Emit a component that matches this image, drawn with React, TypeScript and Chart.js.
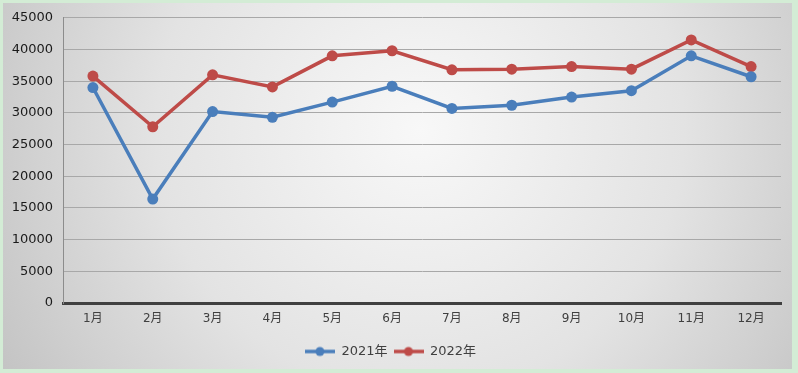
import React, { useEffect, useRef } from "react";
import { Chart, registerables } from "chart.js";

Chart.register(...registerables);

const months = ["1月", "2月", "3月", "4月", "5月", "6月", "7月", "8月", "9月", "10月", "11月", "12月"];
const series2021 = [34000, 16400, 30200, 29300, 31700, 34200, 30700, 31200, 32500, 33500, 39000, 35700];
const series2022 = [35800, 27800, 36000, 34100, 39000, 39800, 36800, 36900, 37300, 36900, 41500, 37300];
const seriesNames = ["2021年", "2022年"];
const seriesColors = ["#4a7ebb", "#be4b48"];

const FONT = "'DejaVu Sans', 'Noto Sans CJK SC', sans-serif";

function legendIcon(color: string): HTMLCanvasElement {
  const c = document.createElement("canvas");
  c.width = 30;
  c.height = 12;
  const g = c.getContext("2d")!;
  g.strokeStyle = color;
  g.lineWidth = 3.5;
  g.beginPath();
  g.moveTo(0, 6);
  g.lineTo(30, 6);
  g.stroke();
  g.fillStyle = color;
  g.beginPath();
  g.arc(15, 6, 4.5, 0, Math.PI * 2);
  g.fill();
  return c;
}

const bgPlugin = {
  id: "bgPlugin",
  beforeDraw(chart: any) {
    const ctx = chart.ctx;
    const w = chart.width;
    const h = chart.height;
    ctx.save();
    ctx.fillStyle = "#d3ecd5";
    ctx.fillRect(0, 0, w, h);
    const grad = ctx.createRadialGradient(420, 130, 0, 420, 130, 480);
    grad.addColorStop(0, "#f8f8f8");
    grad.addColorStop(0.55, "#e3e3e3");
    grad.addColorStop(1, "#c4c4c4");
    ctx.fillStyle = grad;
    ctx.fillRect(3, 3, w - 9, h - 7);
    ctx.restore();
  },
};

export default function App() {
  const ref = useRef<HTMLCanvasElement>(null);
  useEffect(() => {
    document.body.style.margin = "0";
    const icons = seriesColors.map(legendIcon);
    const chart = new Chart(ref.current!, {
      type: "line",
      data: {
        labels: months,
        datasets: [series2021, series2022].map((d, i) => ({
          label: seriesNames[i],
          data: d,
          borderColor: seriesColors[i],
          backgroundColor: seriesColors[i],
          borderWidth: 3.5,
          pointRadius: 5.5,
          pointHoverRadius: 5.5,
          pointBorderWidth: 0,
          tension: 0,
        })),
      },
      options: {
        animation: false,
        responsive: false,
        devicePixelRatio: 1,
        layout: { padding: { left: 0, right: 17, top: 17, bottom: 5 } },
        plugins: {
          tooltip: { enabled: false },
          legend: {
            position: "bottom",
            labels: {
              usePointStyle: true,
              pointStyleWidth: 30,
              padding: 6,
              color: "#404040",
              font: { family: FONT, size: 13 },
              generateLabels: (chart: any) =>
                chart.data.datasets.map((ds: any, i: number) => ({
                  text: ds.label,
                  fillStyle: seriesColors[i],
                  strokeStyle: seriesColors[i],
                  fontColor: "#404040",
                  pointStyle: icons[i],
                  lineWidth: 0,
                  hidden: false,
                  datasetIndex: i,
                })),
            },
          },
        },
        scales: {
          x: {
            offset: true,
            grid: { display: false, drawTicks: false },
            border: { display: true, color: "#404040", width: 3 },
            ticks: { color: "#404040", font: { family: FONT, size: 12 }, padding: 9, maxRotation: 0 },
            afterFit: (s: any) => {
              s.height = 36;
            },
          },
          y: {
            min: 0,
            max: 45000,
            grid: { color: "#a8a8a8", lineWidth: 1, drawTicks: false },
            border: { display: true, color: "#8c8c8c", width: 1 },
            ticks: {
              stepSize: 5000,
              color: "#1a1a1a",
              font: { family: FONT, size: 13 },
              padding: 10,
              callback: (v: any) => String(v),
            },
            afterFit: (s: any) => {
              s.width = 63;
            },
          },
        },
      },
      plugins: [bgPlugin],
    });
    return () => chart.destroy();
  }, []);
  return (
    <div style={{ position: "absolute", left: 0, top: 0, width: 798, height: 373 }}>
      <canvas ref={ref} width={798} height={373} style={{ width: 798, height: 373, display: "block" }} />
    </div>
  );
}
